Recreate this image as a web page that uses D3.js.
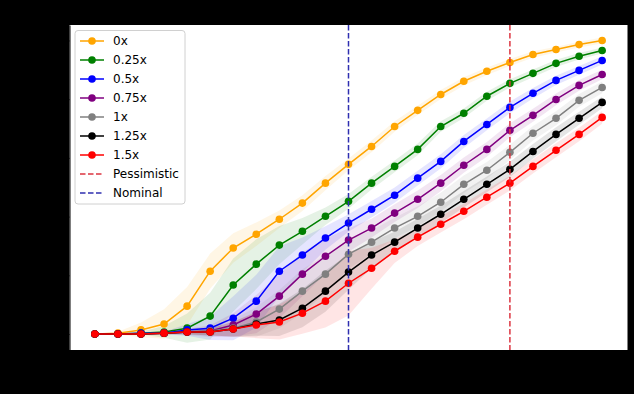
<!DOCTYPE html>
<html>
<head>
<meta charset="utf-8">
<script src="https://cdn.jsdelivr.net/npm/d3@7/dist/d3.min.js"></script>
<style>
html,body{margin:0;padding:0;background:#000;}
svg{display:block;}
</style>
</head>
<body>
<svg id="chart" width="634" height="394"></svg>
<script>
// ---- data ----
const steps = d3.range(23); // x index 0..22
const seriesNames = ["0x","0.25x","0.5x","0.75x","1x","1.25x","1.5x"];
const seriesColors = ["orange","green","blue","purple","gray","black","red"];

const mean0x   = [0,0.003,0.014,0.034,0.095,0.214,0.293,0.340,0.391,0.446,0.514,0.578,0.639,0.707,0.762,0.816,0.861,0.895,0.925,0.952,0.969,0.986,1.0];
const mean025x = [0,0,0.003,0.007,0.020,0.061,0.167,0.238,0.303,0.350,0.401,0.452,0.514,0.571,0.629,0.707,0.752,0.810,0.854,0.888,0.922,0.946,0.966];
const mean05x  = [0,0,0.003,0.003,0.014,0.020,0.054,0.112,0.214,0.269,0.327,0.378,0.425,0.473,0.531,0.588,0.656,0.714,0.772,0.820,0.864,0.898,0.932];
const mean075x = [0,0,0,0.003,0.007,0.010,0.031,0.068,0.129,0.204,0.265,0.320,0.361,0.412,0.459,0.514,0.575,0.629,0.694,0.745,0.799,0.847,0.884];
const mean1x   = [0,0,0,0.003,0.007,0.010,0.020,0.041,0.085,0.146,0.204,0.272,0.313,0.361,0.401,0.449,0.510,0.558,0.619,0.684,0.735,0.796,0.840];
const mean125x = [0,0,0,0.003,0.007,0.007,0.017,0.034,0.048,0.088,0.146,0.211,0.269,0.313,0.361,0.408,0.459,0.510,0.561,0.622,0.680,0.735,0.789];
const mean15x  = [0,0,0,0.003,0.007,0.007,0.017,0.031,0.041,0.071,0.112,0.173,0.224,0.282,0.330,0.374,0.418,0.466,0.514,0.571,0.626,0.680,0.738];

const std0x   = [0,0.005,0.025,0.05,0.065,0.06,0.05,0.04,0.03,0.027,0.024,0.02,0.02,0.018,0.016,0.015,0.014,0.013,0.012,0.011,0.01,0.01,0.01];
const std025x = [0,0,0.005,0.02,0.05,0.08,0.09,0.085,0.065,0.045,0.03,0.025,0.022,0.02,0.02,0.018,0.016,0.015,0.014,0.013,0.012,0.011,0.01];
const std05x  = [0,0,0,0.005,0.02,0.04,0.075,0.09,0.085,0.06,0.04,0.03,0.028,0.026,0.025,0.024,0.022,0.02,0.02,0.018,0.016,0.015,0.014];
const std075x = [0,0,0,0.003,0.01,0.02,0.04,0.065,0.075,0.075,0.06,0.04,0.032,0.03,0.03,0.028,0.026,0.025,0.024,0.022,0.02,0.018,0.016];
const std1x   = [0,0,0,0.003,0.008,0.015,0.03,0.05,0.065,0.075,0.065,0.05,0.04,0.035,0.034,0.032,0.03,0.028,0.026,0.025,0.024,0.022,0.02];
const std125x = [0,0,0,0.003,0.008,0.012,0.025,0.04,0.055,0.065,0.07,0.06,0.045,0.035,0.032,0.03,0.028,0.027,0.026,0.025,0.024,0.022,0.02];
const std15x  = [0,0,0,0.003,0.008,0.012,0.025,0.045,0.06,0.07,0.09,0.11,0.07,0.04,0.03,0.028,0.027,0.026,0.025,0.024,0.024,0.023,0.022];

const means = [mean0x,mean025x,mean05x,mean075x,mean1x,mean125x,mean15x];
const stds  = [std0x,std025x,std05x,std075x,std1x,std125x,std15x];

const nominalStep = 11;
const pessimisticStep = 18;
const refLines = [
  {name:"Pessimistic", step:pessimisticStep, color:"#dc3440"},
  {name:"Nominal", step:nominalStep, color:"#2f2fb0"}
];

// ---- layout ----
const svg = d3.select("#chart");
const W = 634, H = 394;
const plot = {left:69.5, top:25, right:627.5, bottom:350};

svg.append("rect").attr("width",W).attr("height",H).attr("fill","#000");
svg.append("rect").attr("x",plot.left).attr("y",plot.top)
  .attr("width",plot.right-plot.left).attr("height",plot.bottom-plot.top).attr("fill","#fff");

const x = d3.scaleLinear().domain([-1.1, 23.1]).range([plot.left, plot.right]);
const y = d3.scaleLinear().domain([-0.0544, 1.0527]).range([plot.bottom, plot.top]);

// axes (black, on black background)
const gx = svg.append("g").attr("transform",`translate(0,${plot.bottom})`)
  .call(d3.axisBottom(x).ticks(6).tickSizeOuter(0));
const gy = svg.append("g").attr("transform",`translate(${plot.left},0)`)
  .call(d3.axisLeft(y).ticks(6).tickSizeOuter(0));
[gx,gy].forEach(g=>{
  g.selectAll("path,line").attr("stroke","#000");
  g.selectAll("text").attr("fill","#000").style("font-family","DejaVu Sans").style("font-size","12px");
});

svg.append("defs").append("clipPath").attr("id","clip")
  .append("rect").attr("x",plot.left).attr("y",plot.top)
  .attr("width",plot.right-plot.left).attr("height",plot.bottom-plot.top);
const g = svg.append("g").attr("clip-path","url(#clip)");

const area = d3.area()
  .x(d=>x(d.i)).y0(d=>y(d.m-d.s)).y1(d=>y(d.m+d.s));
const line = d3.line().x(d=>x(d.i)).y(d=>y(d.m));

means.forEach((m,k)=>{
  const data = steps.map(i=>({i, m:m[i], s:stds[k][i]}));
  g.append("path").datum(data).attr("d",area)
    .attr("fill",seriesColors[k]).attr("fill-opacity",0.1).attr("stroke","none");
});
means.forEach((m,k)=>{
  const data = steps.map(i=>({i, m:m[i]}));
  g.append("path").datum(data).attr("d",line)
    .attr("fill","none").attr("stroke",seriesColors[k]).attr("stroke-width",1.5);
  g.selectAll(null).data(data).enter().append("circle")
    .attr("cx",d=>x(d.i)).attr("cy",d=>y(d.m)).attr("r",3.8)
    .attr("fill",seriesColors[k]);
});
refLines.forEach(r=>{
  g.append("line").attr("x1",x(r.step)).attr("x2",x(r.step))
    .attr("y1",plot.top).attr("y2",plot.bottom)
    .attr("stroke",r.color).attr("stroke-width",1.5).attr("stroke-dasharray","5.5,2.5");
});

// ---- legend ----
const lg = svg.append("g").attr("transform","translate(75,30.5)");
lg.append("rect").attr("x",0).attr("y",0).attr("width",110).attr("height",173.5)
  .attr("rx",3).attr("fill","#fff").attr("fill-opacity",0.85)
  .attr("stroke","#d0d0d0").attr("stroke-width",1);
const items = seriesNames.map((n,k)=>({name:n,color:seriesColors[k],dash:false}))
  .concat(refLines.map(r=>({name:r.name,color:r.color,dash:true})));
items.forEach((it,k)=>{
  const yy = 10.5 + k*19;
  lg.append("line").attr("x1",5).attr("x2",29).attr("y1",yy).attr("y2",yy)
    .attr("stroke",it.color).attr("stroke-width",1.5)
    .attr("stroke-dasharray",it.dash?"5.5,2.5":null);
  if(!it.dash) lg.append("circle").attr("cx",17).attr("cy",yy).attr("r",3.8).attr("fill",it.color);
  lg.append("text").attr("x",38).attr("y",yy).attr("dy","0.36em")
    .style("font-family","DejaVu Sans").style("font-size","12px").attr("fill","#000")
    .text(it.name);
});
</script>
</body>
</html>
